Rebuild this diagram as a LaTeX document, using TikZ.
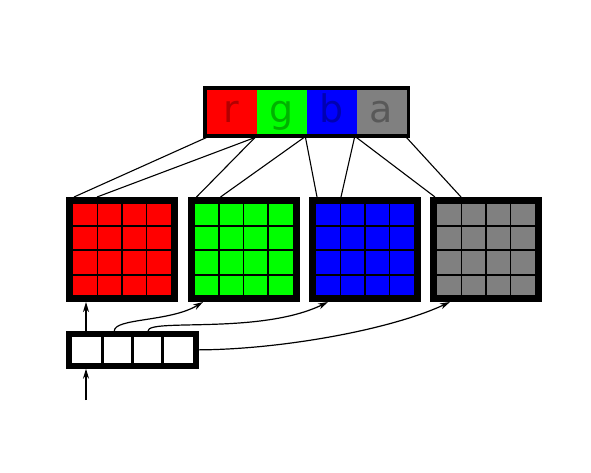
\documentclass[tikz,border=0pt]{standalone}
\usepackage{fontspec}
\newfontfamily\dejavu{DejaVu Sans}
\usetikzlibrary{arrows.meta}
\begin{document}
\begin{tikzpicture}[x=1pt,y=-1pt,
  chan/.style={rectangle,draw=none,minimum width=50pt,minimum height=46pt,inner sep=0pt,outer sep=0pt},
  chanlabel/.style={anchor=base,font=\dejavu\fontsize{38}{40}\selectfont,text=black,text opacity=0.3,inner sep=0pt},
  barbox/.style={rectangle,draw=black,line width=3.5pt,minimum width=203.5pt,minimum height=48pt,inner sep=0pt},
  gridbox/.style={rectangle,draw=black,line width=7pt,minimum width=105pt,minimum height=98pt,inner sep=0pt},
  gridline/.style={draw=black,line width=1.5pt},
  inbox/.style={rectangle,draw=black,fill=white,line width=6pt,minimum width=126.7pt,minimum height=31.7pt,inner sep=0pt},
  sepline/.style={draw=black,line width=3.3pt},
  link/.style={draw=black,line width=1.1pt},
  arr/.style={draw=black,line width=1.2pt,-{Stealth[length=10pt,width=6pt,inset=3pt]}}]
\useasboundingbox (0,0) rectangle (591,472);
% top rgba bar
\node[chan,fill=red] (R) at (231.5,111.75) {};
\node[chan,fill=green] (G) at (281.5,111.75) {};
\node[chan,fill=blue] (B) at (331.5,111.75) {};
\node[chan,fill={rgb,255:red,128;green,128;blue,128}] (A) at (381.5,111.75) {};
\node[chanlabel] (Rl) at (231.5,122) {r};
\node[chanlabel] (Gl) at (281.5,122) {g};
\node[chanlabel] (Bl) at (331.5,122) {b};
\node[chanlabel] (Al) at (381.5,122) {a};
\node[barbox] (bar) at (306.5,111.75) {};
% grids
\foreach \n/\l/\c in {RG/66/red,GG/187.5/green,BG/309/blue,AG/430/gray} {
  \node[gridbox,fill=\c] (\n) at (\l+56,249.5) {};
  \foreach \k in {1,2,3}
    \draw[gridline] (\l+7+24.5*\k,204) -- (\l+7+24.5*\k,295);
  \foreach \yy in {226,250,275}
    \draw[gridline] (\l+7,\yy) -- (\l+105,\yy);
}
% channel links
\draw[link] (R.west |- bar.south) -- ([xshift=8pt]RG.north west);
\draw[link] ([xshift=-1.5pt]R.east |- bar.south) -- ([xshift=31pt]RG.north west);
\draw[link] ([xshift=-1.5pt]G.west |- bar.south) -- ([xshift=9pt]GG.north west);
\draw[link] ([xshift=-2.5pt]G.east |- bar.south) -- ([xshift=33pt]GG.north west);
\draw[link] ([xshift=-1pt]B.west |- bar.south) -- ([xshift=8pt]BG.north west);
\draw[link] ([xshift=-2pt]B.east |- bar.south) -- ([xshift=32pt]BG.north west);
\draw[link] (A.west |- bar.south) -- ([xshift=5pt]AG.north west);
\draw[link] (A.east |- bar.south) -- ([xshift=31pt]AG.north west);
% input bar
\node[inbox] (IN) at (132.35,349.85) {};
\foreach \sx in {102.5,132.8,162.6}
  \draw[sepline] (\sx,337) -- (\sx,362.5);
\coordinate (src) at (86,400);
\draw[arr] (src) -- ([xshift=20pt]IN.south west);
\draw[arr] ([xshift=20pt]IN.north west) -- ([xshift=20pt]RG.south west);
\draw[arr] ([xshift=48.3pt]IN.north west) .. controls (114.3,318) and (170,322) .. ([xshift=15.5pt]GG.south west);
\draw[arr] ([xshift=82pt]IN.north west) .. controls (148,318) and (260,335) .. ([xshift=19pt]BG.south west);
\draw[arr] (IN.east) .. controls (280,349.5) and (390,330) .. ([xshift=20pt]AG.south west);
\end{tikzpicture}
\end{document}
